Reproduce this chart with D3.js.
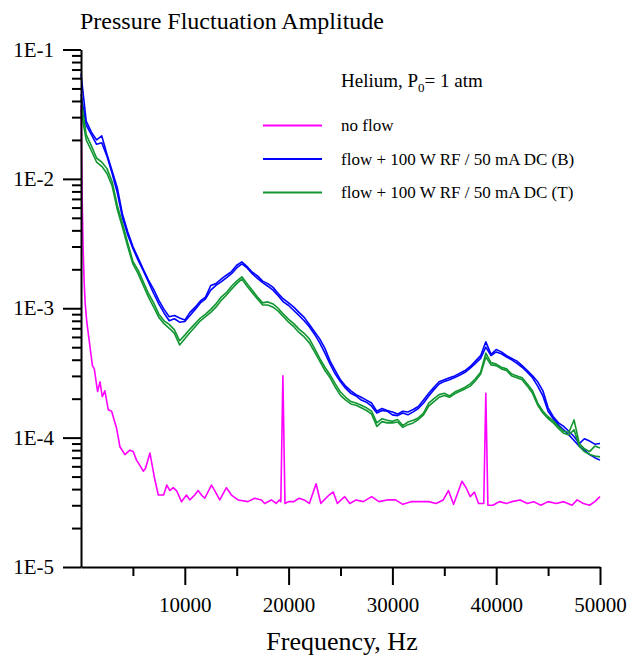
<!DOCTYPE html>
<html>
<head>
<meta charset="utf-8">
<script src="https://cdn.jsdelivr.net/npm/d3@7"></script>
<style>
  body { margin: 0; background: #fff; }
  svg { font-family: "Liberation Serif", "Times New Roman", serif; }
</style>
</head>
<body>
<script>
// sample grid (Hz) shared by the four flow traces
const freq = [0,500,1000,1500,2000,2500,3000,3500,4000,4500,5000,5500,6000,6500,7000,7500,8000,8500,9000,9500,
  10000,10500,11000,11500,12000,12500,13000,13500,14000,14500,15000,15500,16000,16500,17000,17500,18000,18500,19000,19500,
  20000,20500,21000,21500,22000,22500,23000,23500,24000,24500,25000,25500,26000,26500,27000,27500,28000,28500,29000,29500,
  30000,30500,31000,31500,32000,32500,33000,33500,34000,34500,35000,35500,36000,36500,37000,37500,38000,38500,39000,39500,
  40000,40500,41000,41500,42000,42500,43000,43500,44000,44500,45000,45500,46000,46500,47000,47500,48000,48500,49000,49500,50000];

const blueA = [6.5e-2,2.8e-2,2.3e-2,2.0e-2,2.15e-2,1.55e-2,1.15e-2,8.5e-3,5.3e-3,3.9e-3,3.0e-3,2.45e-3,2.0e-3,1.65e-3,1.4e-3,1.15e-3,9.8e-4,8.6e-4,8.8e-4,8.4e-4,
  8.1e-4,9.3e-4,1.02e-3,1.14e-3,1.22e-3,1.5e-3,1.55e-3,1.68e-3,1.8e-3,1.92e-3,2.15e-3,2.28e-3,2.1e-3,1.9e-3,1.78e-3,1.62e-3,1.55e-3,1.45e-3,1.3e-3,1.18e-3,
  1.1e-3,1.02e-3,9.3e-4,8.5e-4,7.5e-4,6.6e-4,5.8e-4,4.9e-4,3.9e-4,3.3e-4,2.8e-4,2.5e-4,2.3e-4,2.15e-4,2.05e-4,1.95e-4,1.85e-4,1.6e-4,1.68e-4,1.62e-4,
  1.58e-4,1.52e-4,1.6e-4,1.58e-4,1.65e-4,1.74e-4,1.95e-4,2.2e-4,2.45e-4,2.7e-4,2.8e-4,2.9e-4,3.0e-4,3.15e-4,3.3e-4,3.55e-4,3.9e-4,4.3e-4,5.5e-4,4.4e-4,
  4.8e-4,4.6e-4,4.3e-4,4.1e-4,3.9e-4,3.6e-4,3.3e-4,3.0e-4,2.7e-4,2.3e-4,1.7e-4,1.45e-4,1.3e-4,1.22e-4,1.12e-4,1.02e-4,9.0e-5,9.8e-5,9.4e-5,8.9e-5,9.0e-5];

const blueB = [4.5e-2,2.6e-2,2.2e-2,1.85e-2,1.9e-2,1.5e-2,1.1e-2,7.8e-3,5.0e-3,3.7e-3,2.9e-3,2.35e-3,1.95e-3,1.6e-3,1.3e-3,1.08e-3,9.2e-4,8.0e-4,8.3e-4,7.8e-4,
  7.9e-4,8.8e-4,9.8e-4,1.1e-3,1.18e-3,1.38e-3,1.5e-3,1.6e-3,1.72e-3,1.85e-3,2.05e-3,2.2e-3,2.05e-3,1.85e-3,1.7e-3,1.58e-3,1.48e-3,1.38e-3,1.25e-3,1.12e-3,
  1.05e-3,9.6e-4,8.8e-4,8.0e-4,7.2e-4,6.3e-4,5.4e-4,4.5e-4,3.7e-4,3.1e-4,2.7e-4,2.4e-4,2.2e-4,2.1e-4,1.95e-4,1.88e-4,1.75e-4,1.55e-4,1.62e-4,1.6e-4,
  1.5e-4,1.48e-4,1.55e-4,1.5e-4,1.58e-4,1.68e-4,1.85e-4,2.1e-4,2.35e-4,2.6e-4,2.72e-4,2.8e-4,2.92e-4,3.05e-4,3.2e-4,3.45e-4,3.75e-4,4.1e-4,5.0e-4,4.3e-4,
  4.6e-4,4.45e-4,4.2e-4,4.0e-4,3.75e-4,3.5e-4,3.2e-4,2.9e-4,2.5e-4,2.1e-4,1.6e-4,1.4e-4,1.25e-4,1.15e-4,1.05e-4,9.5e-5,8.6e-5,8.0e-5,7.4e-5,7.0e-5,6.7e-5];

const greenA = [4.2e-2,2.2e-2,1.8e-2,1.45e-2,1.35e-2,1.2e-2,9.5e-3,6.2e-3,4.5e-3,3.2e-3,2.3e-3,1.97e-3,1.6e-3,1.3e-3,1.1e-3,9.0e-4,8.0e-4,7.5e-4,6.8e-4,5.6e-4,
  6.2e-4,6.9e-4,7.6e-4,8.4e-4,9.0e-4,9.8e-4,1.08e-3,1.22e-3,1.32e-3,1.48e-3,1.62e-3,1.75e-3,1.55e-3,1.38e-3,1.22e-3,1.1e-3,1.12e-3,1.08e-3,1.0e-3,9.0e-4,
  8.2e-4,7.6e-4,6.9e-4,6.4e-4,5.8e-4,4.9e-4,4.1e-4,3.5e-4,3.05e-4,2.6e-4,2.25e-4,2.05e-4,1.9e-4,1.85e-4,1.78e-4,1.7e-4,1.6e-4,1.3e-4,1.4e-4,1.36e-4,
  1.34e-4,1.38e-4,1.24e-4,1.32e-4,1.36e-4,1.42e-4,1.55e-4,1.85e-4,2.0e-4,2.15e-4,2.2e-4,2.1e-4,2.25e-4,2.35e-4,2.45e-4,2.6e-4,2.85e-4,3.2e-4,4.5e-4,3.8e-4,
  3.7e-4,3.5e-4,3.4e-4,3.1e-4,3.0e-4,2.9e-4,2.6e-4,2.3e-4,1.85e-4,1.6e-4,1.45e-4,1.35e-4,1.22e-4,1.12e-4,1.1e-4,1.37e-4,9.0e-5,8.2e-5,7.8e-5,8.6e-5,8.3e-5];

const greenB = [3.4e-2,2.0e-2,1.65e-2,1.35e-2,1.25e-2,1.1e-2,8.8e-3,5.8e-3,4.2e-3,3.0e-3,2.2e-3,1.85e-3,1.5e-3,1.22e-3,1.02e-3,8.5e-4,7.6e-4,7.0e-4,6.4e-4,5.2e-4,
  5.8e-4,6.5e-4,7.2e-4,8.0e-4,8.6e-4,9.3e-4,1.02e-3,1.15e-3,1.26e-3,1.4e-3,1.55e-3,1.68e-3,1.48e-3,1.32e-3,1.18e-3,1.06e-3,1.06e-3,1.02e-3,9.5e-4,8.6e-4,
  7.8e-4,7.2e-4,6.5e-4,6.0e-4,5.4e-4,4.6e-4,3.9e-4,3.3e-4,2.9e-4,2.45e-4,2.12e-4,1.95e-4,1.82e-4,1.78e-4,1.7e-4,1.62e-4,1.52e-4,1.22e-4,1.33e-4,1.3e-4,
  1.3e-4,1.32e-4,1.2e-4,1.26e-4,1.3e-4,1.38e-4,1.5e-4,1.75e-4,1.9e-4,2.05e-4,2.12e-4,2.05e-4,2.18e-4,2.28e-4,2.38e-4,2.5e-4,2.75e-4,3.1e-4,4.2e-4,3.65e-4,
  3.6e-4,3.4e-4,3.3e-4,3.0e-4,2.9e-4,2.8e-4,2.5e-4,2.2e-4,1.78e-4,1.55e-4,1.4e-4,1.3e-4,1.18e-4,1.08e-4,1.05e-4,1.15e-4,8.6e-5,7.8e-5,7.4e-5,7.2e-5,7.1e-5];

// "no flow" trace, its own (finer) grid around the spikes
const noFlowFreq = [0,100,200,300,400,550,700,900,1100,1280,1600,1830,2050,2300,2630,2950,3430,3750,4230,4710,5030,5350,5670,6000,6220,6640,7120,7450,7960,8270,8560,8880,9200,9680,
  10160,10480,10960,11280,11600,11920,12570,12880,13370,14010,14490,15130,16090,16730,17380,17690,18340,18800,19100,19250,19450,19650,20000,20500,21000,21500,22000,22650,23100,
  23900,24300,24700,25400,25900,26500,27200,28000,28700,29500,30300,31000,31800,32700,33500,34200,34900,35400,35900,36700,37100,37500,37900,38300,38800,39000,39200,39700,
  40300,41000,41500,42300,43000,43600,44300,45000,45800,46500,47300,47800,48400,49000,49500,50000];
const noFlow = [3.7e-2,8e-3,3.0e-3,1.6e-3,1.1e-3,8.0e-4,6.4e-4,4.8e-4,3.6e-4,3.4e-4,2.27e-4,2.7e-4,2.07e-4,2.3e-4,1.64e-4,1.6e-4,1.18e-4,8.5e-5,7.4e-5,8.0e-5,7.8e-5,6.7e-5,6.1e-5,5.5e-5,5.8e-5,7.6e-5,4.7e-5,3.6e-5,3.6e-5,4.3e-5,3.9e-5,4.1e-5,3.9e-5,3.2e-5,
  3.6e-5,3.3e-5,3.6e-5,3.9e-5,3.6e-5,3.4e-5,4.3e-5,3.9e-5,3.3e-5,4.1e-5,3.6e-5,3.3e-5,3.2e-5,3.4e-5,3.3e-5,3.1e-5,3.3e-5,3.1e-5,3.3e-5,3.2e-5,3.0e-4,3.1e-5,3.2e-5,3.2e-5,3.4e-5,3.3e-5,3.1e-5,4.4e-5,3.1e-5,
  3.6e-5,3.8e-5,3.1e-5,3.5e-5,3.1e-5,3.3e-5,3.2e-5,3.5e-5,3.2e-5,3.3e-5,3.3e-5,3.05e-5,3.2e-5,3.2e-5,3.2e-5,3.1e-5,3.3e-5,3.9e-5,3.05e-5,4.6e-5,4.1e-5,3.5e-5,3.8e-5,3.1e-5,3.1e-5,2.2e-4,3.0e-5,3.0e-5,
  3.2e-5,3.1e-5,3.2e-5,3.3e-5,3.1e-5,3.2e-5,3.0e-5,3.2e-5,3.1e-5,3.2e-5,3.0e-5,3.3e-5,3.1e-5,3.0e-5,3.2e-5,3.5e-5];

const xMajor = [10000, 20000, 30000, 40000, 50000];
const xMinor = [5000, 15000, 25000, 35000, 45000];
const yMajor = [1e-1, 1e-2, 1e-3, 1e-4, 1e-5];
const yLabels = ["1E-1", "1E-2", "1E-3", "1E-4", "1E-5"];

const legendNames = ["no flow", "flow + 100 W RF / 50 mA DC (B)", "flow + 100 W RF / 50 mA DC (T)"];
const colors = ["#ff00ff", "#0000ff", "#129632"];

const w = 630, h = 662;
const plotLeft = 81, plotRight = 600, plotTop = 49.5, plotBottom = 567;

const svg = d3.select("body").append("svg")
    .attr("width", w)
    .attr("height", h);

const x = d3.scaleLinear().domain([0, 50000]).range([plotLeft, plotRight]);
const y = d3.scaleLog().domain([1e-5, 1e-1]).range([plotBottom, plotTop]);

// minor log ticks 2..9 in each decade
const yMinor = [];
yMajor.slice(1).forEach(d => {
    for (let k = 2; k <= 9; k++) yMinor.push(d * k);
});

const line = d3.line().x(d => x(d[0])).y(d => y(d[1]));

const traces = [
    { pts: noFlowFreq.map((f, i) => [f, noFlow[i]]), color: colors[0] },
    { pts: freq.map((f, i) => [f, blueA[i]]), color: colors[1] },
    { pts: freq.map((f, i) => [f, blueB[i]]), color: colors[1] },
    { pts: freq.map((f, i) => [f, greenA[i]]), color: colors[2] },
    { pts: freq.map((f, i) => [f, greenB[i]]), color: colors[2] }
];

svg.append("g").selectAll("path")
    .data(traces)
    .enter()
    .append("path")
    .attr("d", d => line(d.pts))
    .attr("fill", "none")
    .attr("stroke", d => d.color)
    .attr("stroke-width", 1.6)
    .attr("stroke-linejoin", "round");

// axes
svg.append("g")
    .attr("transform", "translate(" + plotLeft + ",0)")
    .call(d3.axisLeft(y).tickValues(yMajor).tickSize(18).tickSizeOuter(0).tickPadding(9)
        .tickFormat((d, i) => yLabels[i]));
svg.append("g")
    .attr("transform", "translate(" + plotLeft + ",0)")
    .call(d3.axisLeft(y).tickValues(yMinor).tickSize(9).tickSizeOuter(0).tickFormat(""))
    .select(".domain").remove();

svg.append("g")
    .attr("transform", "translate(0," + plotBottom + ")")
    .call(d3.axisBottom(x).tickValues(xMajor).tickSize(18).tickSizeOuter(0).tickPadding(12)
        .tickFormat(d3.format("d")));
svg.append("g")
    .attr("transform", "translate(0," + plotBottom + ")")
    .call(d3.axisBottom(x).tickValues(xMinor).tickSize(9).tickSizeOuter(0).tickFormat(""))
    .select(".domain").remove();

svg.selectAll(".tick line, .domain")
    .attr("stroke", "#000")
    .attr("stroke-width", 2);
svg.selectAll(".tick text")
    .attr("font-family", "Liberation Serif, serif")
    .attr("font-size", 21)
    .attr("fill", "#000");

// titles
svg.append("text")
    .attr("x", 80)
    .attr("y", 29)
    .attr("font-size", 24)
    .text("Pressure Fluctuation Amplitude");

svg.append("text")
    .attr("x", 342)
    .attr("y", 650)
    .attr("text-anchor", "middle")
    .attr("font-size", 26)
    .text("Frequency, Hz");

// legend
const note = svg.append("text")
    .attr("x", 341)
    .attr("y", 87)
    .attr("font-size", 19);
note.append("tspan").text("Helium, P");
note.append("tspan").attr("font-size", 13).attr("dy", 5).text("0");
note.append("tspan").attr("dy", -5).text("= 1 atm");

const legend = svg.append("g").selectAll("g")
    .data(legendNames)
    .enter()
    .append("g")
    .attr("transform", (d, i) => "translate(0," + (125.5 + i * 33.5) + ")");

legend.append("line")
    .attr("x1", 263)
    .attr("x2", 322)
    .attr("stroke", (d, i) => colors[i])
    .attr("stroke-width", 2);

legend.append("text")
    .attr("x", 341)
    .attr("y", 5.5)
    .attr("font-size", 17)
    .text(d => d);
</script>
</body>
</html>
